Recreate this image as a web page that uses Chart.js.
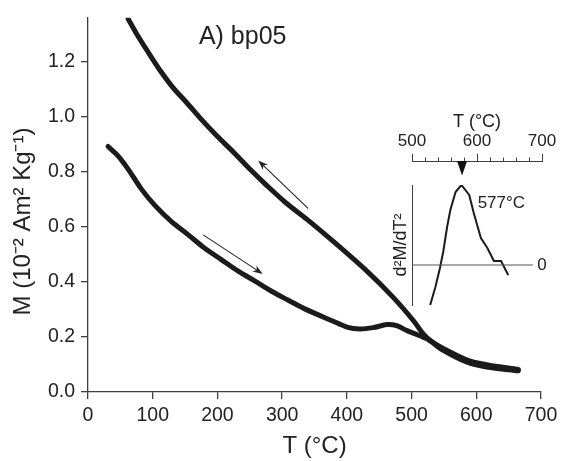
<!DOCTYPE html>
<html>
<head>
<meta charset="utf-8">
<script src="https://cdn.jsdelivr.net/npm/chart.js@4.4.0/dist/chart.umd.min.js"></script>
<style>
    html, body { margin: 0; padding: 0; background: #fff; }
    #wrap { position: relative; width: 565px; height: 461px; }
    #main { position: absolute; left: 0; top: 0; }
    #inset { position: absolute; left: 360px; top: 100px; }
</style>
</head>
<body>
<div id="wrap">
    <canvas id="main" width="565" height="461"></canvas>
    <canvas id="inset" width="205" height="210"></canvas>
</div>
<script>
// heating curve (lower branch), T in °C, M in 10^-2 Am2/kg
const heatT = [31, 46, 62, 82, 103, 129, 155, 180, 206, 232, 258, 283, 309, 335, 379, 400, 420, 441, 462, 477, 493, 524, 549, 585, 616, 665];
const heatM = [0.892, 0.859, 0.810, 0.739, 0.679, 0.619, 0.571, 0.523, 0.481, 0.439, 0.403, 0.367, 0.334, 0.302, 0.257, 0.236, 0.229, 0.234, 0.245, 0.241, 0.223, 0.193, 0.151, 0.109, 0.091, 0.077];

// cooling curve (upper branch)
const coolT = [62, 75, 91, 111, 132, 153, 173, 199, 225, 250, 276, 307, 338, 379, 431, 472, 503, 518, 530, 549, 585, 616, 665];
const coolM = [1.356, 1.302, 1.242, 1.170, 1.104, 1.050, 0.996, 0.931, 0.871, 0.810, 0.751, 0.685, 0.628, 0.547, 0.439, 0.343, 0.259, 0.211, 0.185, 0.158, 0.117, 0.099, 0.082];

// inset: second derivative d2M/dT2 (arbitrary units)
const insetT = [528, 536, 543, 548, 554, 559, 567, 576, 588, 595, 606, 616, 626, 637, 648];
const insetD = [-4.0, -2.2, -0.3, 1.3, 3.8, 5.5, 7.3, 8.0, 7.0, 5.2, 2.7, 1.7, 0.4, 0.4, -1.0];

const xTicks = [0, 100, 200, 300, 400, 500, 600, 700];
const yTicks = [0, 0.2, 0.4, 0.6, 0.8, 1.0, 1.2];
const insetTickLabels = [500, 600, 700];

const curieT = 577;
const sampleName = 'A) bp05';
// arrows: [T, M] tail -> head
const arrowTails = [[340, 0.667], [178, 0.571]];
const arrowHeads = [[263, 0.841], [270, 0.429]];

const ink = '#1b1b1b';
const axisColor = '#3e3e3e';
Chart.defaults.font.family = "'Liberation Sans', Arial, Helvetica, sans-serif";
Chart.defaults.color = '#222';

const toPoints = (xs, ys) => xs.map((x, i) => ({ x: x, y: ys[i] }));

const drawArrow = (ctx, x1, y1, x2, y2) => {
    const a = Math.atan2(y2 - y1, x2 - x1);
    const len = 10, half = 3.6;
    const c = Math.cos(a), s = Math.sin(a);
    ctx.beginPath();
    ctx.moveTo(x1, y1);
    ctx.lineTo(x2 - 7 * c, y2 - 7 * s);
    ctx.stroke();
    ctx.beginPath();
    ctx.moveTo(x2, y2);
    ctx.lineTo(x2 - len * c + half * s, y2 - len * s - half * c);
    ctx.lineTo(x2 - 0.7 * len * c, y2 - 0.7 * len * s);
    ctx.lineTo(x2 - len * c - half * s, y2 - len * s + half * c);
    ctx.closePath();
    ctx.fill();
};

const mainNotes = {
    id: 'mainNotes',
    afterDatasetsDraw(chart) {
        const { ctx, scales: { x, y } } = chart;
        ctx.save();
        ctx.strokeStyle = '#222';
        ctx.fillStyle = '#222';
        ctx.lineWidth = 1.1;
        arrowTails.forEach((t, i) => {
            const h = arrowHeads[i];
            drawArrow(ctx, x.getPixelForValue(t[0]), y.getPixelForValue(t[1]),
                x.getPixelForValue(h[0]), y.getPixelForValue(h[1]));
        });
        ctx.font = "25px 'Liberation Sans', Arial, sans-serif";
        ctx.textAlign = 'center';
        ctx.textBaseline = 'middle';
        ctx.fillText(sampleName, x.getPixelForValue(239), y.getPixelForValue(1.29));
        ctx.restore();
    }
};

new Chart(document.getElementById('main'), {
    type: 'line',
    data: {
        datasets: [{
            label: 'heating',
            data: toPoints(heatT, heatM),
            borderColor: ink,
            borderWidth: 5,
            pointRadius: 0,
            tension: 0.3,
            borderCapStyle: 'round',
            borderJoinStyle: 'round'
        }, {
            label: 'cooling',
            data: toPoints(coolT, coolM),
            borderColor: ink,
            borderWidth: 5,
            pointRadius: 0,
            tension: 0.3,
            borderCapStyle: 'round',
            borderJoinStyle: 'round'
        }]
    },
    options: {
        responsive: false,
        animation: false,
        events: [],
        layout: { padding: { top: 14, right: 24, bottom: 0, left: 0 } },
        plugins: { legend: { display: false }, tooltip: { enabled: false } },
        scales: {
            x: {
                type: 'linear',
                min: 0,
                max: 700,
                afterBuildTicks: axis => { axis.ticks = xTicks.map(v => ({ value: v })); },
                afterFit: axis => { axis.height = 69; },
                ticks: { font: { size: 19.5 }, padding: 5, maxRotation: 0 },
                grid: { drawOnChartArea: false, tickLength: 7, color: axisColor, lineWidth: 1.3 },
                border: { color: axisColor, width: 1.3 },
                title: { display: true, text: 'T (°C)', font: { size: 24 }, padding: { top: 0, bottom: 0 } }
            },
            y: {
                min: 0,
                max: 1.36,
                afterBuildTicks: axis => { axis.ticks = yTicks.map(v => ({ value: v })); },
                afterFit: axis => { axis.width = 88; },
                ticks: { font: { size: 19.5 }, padding: 6, callback: v => v.toFixed(1) },
                grid: { drawOnChartArea: false, tickLength: 7, color: axisColor, lineWidth: 1.3 },
                border: { color: axisColor, width: 1.3 },
                title: { display: true, text: 'M (10⁻² Am² Kg⁻¹)     ', font: { size: 24 }, padding: { top: 9, bottom: 0 } }
            }
        }
    },
    plugins: [mainNotes]
});

// inset: the top axis sits a little above the plotted area
const insetAxisGap = 24;
const insetNotes = {
    id: 'insetNotes',
    afterLayout(chart) {
        const x = chart.scales.x;
        x.top -= insetAxisGap;
        x.bottom -= insetAxisGap;
    },
    afterDatasetsDraw(chart) {
        const { ctx, scales: { x, y } } = chart;
        ctx.save();
        // zero line and its label
        const y0 = y.getPixelForValue(0);
        ctx.strokeStyle = '#555';
        ctx.lineWidth = 1;
        ctx.beginPath();
        ctx.moveTo(x.getPixelForValue(500), y0);
        ctx.lineTo(x.getPixelForValue(686), y0);
        ctx.stroke();
        ctx.fillStyle = '#222';
        ctx.font = "17px 'Liberation Sans', Arial, sans-serif";
        ctx.textAlign = 'center';
        ctx.textBaseline = 'middle';
        ctx.fillText('0', x.getPixelForValue(700), y0);
        // Curie point marker
        const cx = x.getPixelForValue(curieT);
        const top = x.bottom;
        ctx.fillStyle = '#111';
        ctx.beginPath();
        ctx.moveTo(cx - 5, top);
        ctx.lineTo(cx + 5, top);
        ctx.lineTo(cx, top + 14.5);
        ctx.closePath();
        ctx.fill();
        ctx.fillStyle = '#222';
        ctx.textAlign = 'left';
        ctx.fillText(curieT + '°C', x.getPixelForValue(601), y.getPixelForValue(6.2));
        ctx.restore();
    }
};

new Chart(document.getElementById('inset'), {
    type: 'line',
    data: {
        datasets: [{
            label: 'd2M/dT2',
            data: toPoints(insetT, insetD),
            borderColor: ink,
            borderWidth: 2,
            pointRadius: 0,
            tension: 0
        }]
    },
    options: {
        responsive: false,
        animation: false,
        events: [],
        layout: { padding: { top: 35, right: 23, bottom: 5, left: 0 } },
        plugins: { legend: { display: false }, tooltip: { enabled: false } },
        scales: {
            x: {
                type: 'linear',
                position: 'top',
                min: 500,
                max: 700,
                afterFit: axis => { axis.height = 50; },
                ticks: {
                    stepSize: 20,
                    autoSkip: false,
                    maxRotation: 0,
                    padding: 2,
                    font: { size: 17 },
                    callback: v => insetTickLabels.includes(v) ? String(v) : ''
                },
                grid: {
                    drawOnChartArea: false,
                    tickLength: 7,
                    color: axisColor,
                    tickBorderDash: c => (c.tick && insetTickLabels.includes(c.tick.value)) ? [] : [0, 3.5, 10, 0]
                },
                border: { color: axisColor, width: 1 },
                title: { display: true, text: 'T (°C)', font: { size: 18 }, padding: { top: 0, bottom: 2 } }
            },
            y: {
                min: -4,
                max: 8,
                afterFit: axis => { axis.width = 52; },
                ticks: { display: false },
                grid: { display: false },
                border: { color: axisColor, width: 1 },
                title: { display: true, text: 'd²M/dT²', font: { size: 18 }, padding: { top: 30, bottom: 0 } }
            }
        }
    },
    plugins: [insetNotes]
});
</script>
</body>
</html>
